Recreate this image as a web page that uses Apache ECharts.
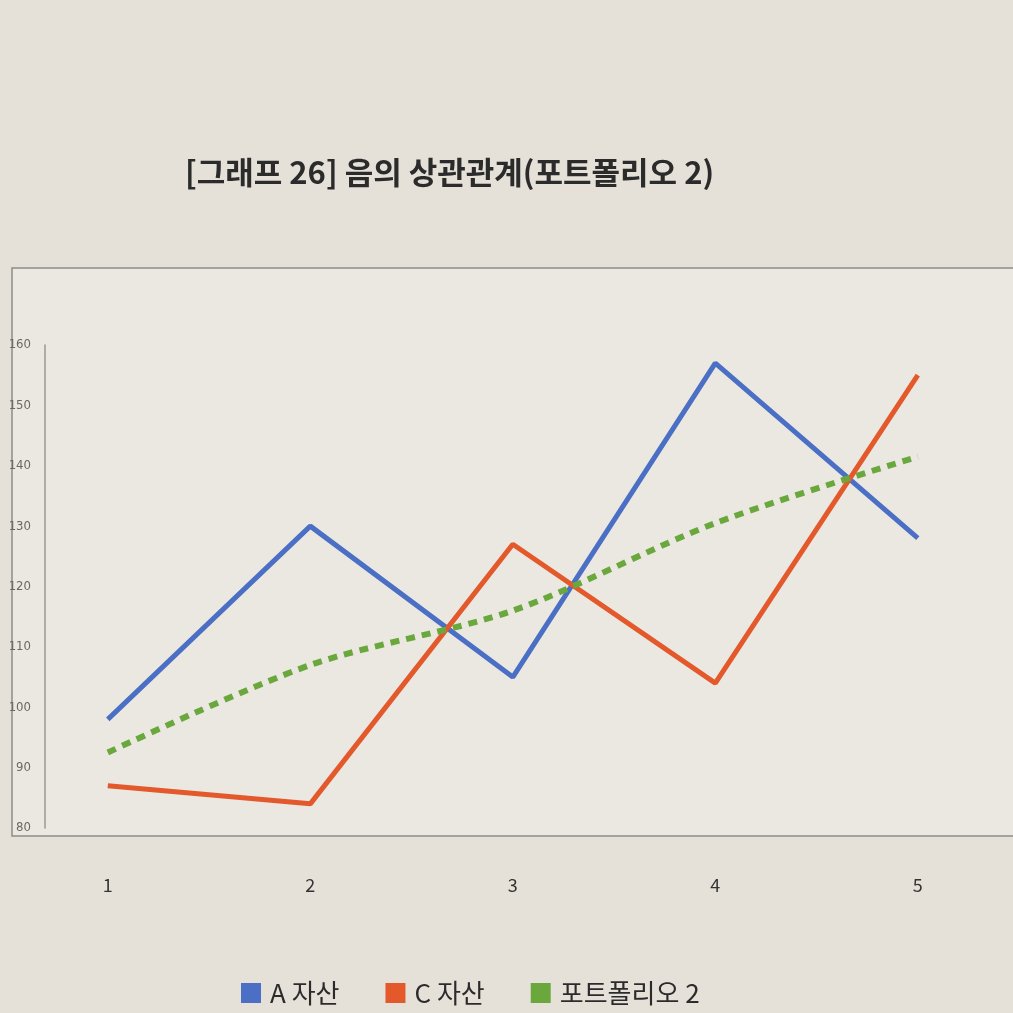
<!DOCTYPE html>
<html>
<head>
<meta charset="utf-8">
<script src="https://cdn.jsdelivr.net/npm/echarts@6/dist/echarts.min.js"></script>
<style>
  html, body { margin: 0; padding: 0; background: #e5e1d8; }
  #chart { width: 1013px; height: 1013px; }
</style>
</head>
<body>
<div id="chart"></div>
<script>
  // values
  const periods = [1, 2, 3, 4, 5];
  const assetA = [98, 130, 105, 157, 128];
  const assetC = [87, 84, 127, 104, 155];
  const portfolio2 = [92.5, 107, 116, 130.5, 141.5];
  const yTicks = [80, 90, 100, 110, 120, 130, 140, 150, 160];

  const chart = echarts.init(document.getElementById('chart'));

  function pairs(vals) {
    let out = [];
    for (let i = 0; i < periods.length; i++) {
      out.push([periods[i], vals[i]]);
    }
    return out;
  }

  const font = "'Noto Sans CJK KR', 'Noto Sans', sans-serif";

  let option = {
    backgroundColor: '#e5e1d8',
    title: {
      text: '[그래프 26] 음의 상관관계(포트폴리오 2)',
      left: 180,
      top: 152,
      textStyle: { fontFamily: font, fontSize: 31, fontWeight: 'bold', color: '#2b2b2b' }
    },
    graphic: [
      {
        type: 'rect',
        z: -1,
        shape: { x: 12, y: 268, width: 1020, height: 568 },
        style: { fill: '#ebe8e1', stroke: '#8e8c88', lineWidth: 1.5 }
      }
    ],
    legend: {
      bottom: 2,
      left: 236,
      itemWidth: 20,
      itemHeight: 20,
      itemGap: 46,
      icon: 'rect',
      textStyle: { fontFamily: font, fontSize: 26, color: '#2b2b2b', padding: [0, 0, 0, 4] },
      data: ['A 자산', 'C 자산', '포트폴리오 2']
    },
    grid: {
      left: 45,
      right: 0,
      top: 345,
      bottom: 185
    },
    xAxis: {
      type: 'value',
      min: 0.69,
      max: 5.47,
      splitLine: { show: false },
      axisLine: { show: false },
      axisTick: { show: false },
      axisLabel: {
        customValues: periods,
        margin: 48,
        fontFamily: font,
        fontSize: 18,
        color: '#333'
      }
    },
    yAxis: {
      type: 'value',
      min: yTicks[0],
      max: yTicks[yTicks.length - 1],
      interval: 10,
      splitLine: { show: false },
      axisLine: { show: true, lineStyle: { color: '#9a9894', width: 1.5 } },
      axisTick: { show: false },
      axisLabel: {
        margin: 14,
        fontFamily: "'Liberation Sans Narrow', 'DejaVu Sans Condensed', sans-serif",
        fontSize: 13,
        color: '#6a6865'
      }
    },
    series: [
      {
        name: 'A 자산',
        type: 'line',
        data: pairs(assetA),
        symbol: 'none',
        color: '#4a6fc4',
        lineStyle: { width: 5, color: '#4a6fc4' }
      },
      {
        name: 'C 자산',
        type: 'line',
        data: pairs(assetC),
        symbol: 'none',
        color: '#e3592c',
        lineStyle: { width: 5, color: '#e3592c' }
      },
      {
        name: '포트폴리오 2',
        type: 'line',
        data: pairs(portfolio2),
        symbol: 'none',
        smooth: 0.3,
        color: '#6aa83e',
        lineStyle: { width: 6, color: '#6aa83e', type: [9, 7] }
      }
    ]
  };

  chart.setOption(option);
  window.addEventListener('resize', function () {
    chart.resize();
  });
</script>
</body>
</html>
